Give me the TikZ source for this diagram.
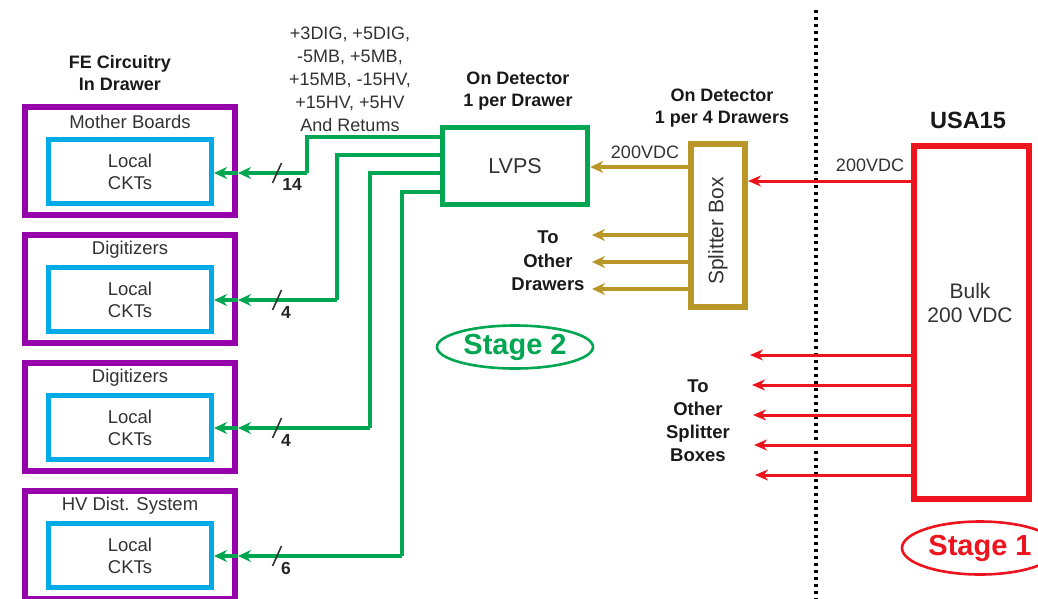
\documentclass[tikz,border=0pt]{standalone}
\usepackage{fontspec}
\setmainfont{Liberation Sans}
\usetikzlibrary{arrows.meta,shapes.geometric,calc}
\definecolor{fepurple}{RGB}{150,0,170}
\definecolor{cktblue}{RGB}{0,170,230}
\definecolor{lvgreen}{RGB}{0,166,81}
\definecolor{spgold}{RGB}{185,150,40}
\definecolor{usared}{RGB}{237,20,30}
\definecolor{txtgray}{RGB}{50,50,50}
\tikzset{
  febox/.style={draw=fepurple,line width=6pt,minimum width=210pt,minimum height=108pt,inner sep=0pt},
  cktbox/.style={draw=cktblue,line width=5pt,minimum width=163pt,minimum height=64pt,align=center,font=\fontsize{18.5}{22}\selectfont,text=txtgray,inner sep=0pt},
  boxtitle/.style={font=\fontsize{18.5}{22}\selectfont,text=txtgray,inner sep=0pt},
  blabel/.style={font=\bfseries\fontsize{18}{22.5}\selectfont,align=center,text=black!90,inner sep=0pt},
  nlabel/.style={font=\fontsize{18}{23}\selectfont,align=center,text=txtgray,inner sep=0pt},
  gline/.style={draw=lvgreen,line width=3.5pt},
  gtip/.style={-{Stealth[length=13pt,width=12pt]}},
  goldline/.style={draw=spgold,line width=3.5pt,-{Stealth[length=13pt,width=12pt]}},
  redline/.style={draw=usared,line width=3pt,-{Stealth[length=13pt,width=11pt]}},
  slashmark/.style={draw=black!80,line width=1.6pt},
  cnt/.style={font=\bfseries\fontsize{17.5}{18}\selectfont,text=black!85,inner sep=0pt},
  stageell/.style={ellipse,line width=2.6pt,inner sep=0pt,font=\bfseries\fontsize{29}{30}\selectfont}
}
\begin{document}
\begin{tikzpicture}[x=1pt,y=-1pt]
\useasboundingbox (0,0) rectangle (1038,598);
\clip (0,0) rectangle (1038,598);

% FE boxes
\foreach \i/\yc/\ttl in {1/161/Mother Boards,2/289/Digitizers,3/417/Digitizers,4/545/HV Dist. System}{
  \node[febox] (fe\i) at (130,\yc) {};
  \node[boxtitle] (fet\i) at (130,\yc-39) {\ttl};
  \node[cktbox] (ck\i) at (130,\yc+10.5) {Local\\CKTs};
}

\node[blabel] (fehead) at (120,73) {FE Circuitry\\In Drawer};
\node[nlabel] (sigs) at (350,79) {+3DIG, +5DIG,\\-5MB, +5MB,\\+15MB, -15HV,\\+15HV, +5HV\\And Retums};

% LVPS
\node[draw=lvgreen,line width=5.5pt,minimum width=145pt,minimum height=77pt,inner sep=0pt,
      font=\fontsize{21.5}{24}\selectfont,text=txtgray] (lvps) at (515,166) {LVPS};
\node[blabel] (lvhead) at (518,91) {On Detector\\1 per Drawer};

% green wiring
\coordinate (j1) at (307,173);
\coordinate (j2) at (337,300);
\coordinate (j3) at (370,428);
\coordinate (j4) at (402,556);
\draw[gline] (lvps.west |- 0,137) -| (j1);
\draw[gline] (lvps.west |- 0,155) -| (j2);
\draw[gline] (lvps.west |- 0,173) -| (j3);
\draw[gline] (lvps.west |- 0,192) -| (j4);
\foreach \i in {1,...,4}{
  \draw[gline,gtip] (j\i) -- (fe\i.east |- j\i);
  \draw[gline,gtip] (fe\i.east |- j\i) -- (ck\i.east |- j\i);
}
\foreach \i in {1,...,4}{
  \coordinate (sm\i) at (277,0 |- j\i);
  \draw[slashmark] ($(sm\i)+(-4.5,10)$) -- ($(sm\i)+(4.5,-10)$);
}
\node[cnt] (c1) at (292,184) {14};
\node[cnt] (c2) at (286,312) {4};
\node[cnt] (c3) at (286,440) {4};
\node[cnt] (c4) at (286,568) {6};

% Splitter box
\node[draw=spgold,line width=6pt,minimum width=54pt,minimum height=163pt,inner sep=0pt] (spl) at (718,225.5) {};
\node[rotate=90,font=\fontsize{21}{24}\selectfont,text=txtgray,inner sep=0pt] (spltxt) at (718,231) {Splitter Box};
\node[blabel] (sphead) at (722,108) {On Detector\\1 per 4 Drawers};
\draw[goldline] (spl.west |- 0,167) -- (lvps.east |- 0,167);
\node[nlabel] (v1) at (645,152) {200VDC};
\coordinate (od1) at (592,235);
\coordinate (od2) at (592,262);
\coordinate (od3) at (592,289);
\foreach \i in {1,2,3}{ \draw[goldline] (spl.west |- od\i) -- (od\i); }
\node[blabel,font=\bfseries\fontsize{18.5}{23.5}\selectfont] (otd) at (548,261) {To\\Other\\Drawers};

% Stage 2
\node[stageell,draw=lvgreen,text=lvgreen,minimum width=156pt,minimum height=43pt] (st2) at (515,347) {Stage 2};

% dotted divider
\coordinate (dtop) at (816,10);
\coordinate (dbot) at (816,600);
\draw[line width=3.2pt,dash pattern=on 3.2pt off 3.8pt,black] (dtop) -- (dbot);

% USA15
\node[draw=usared,line width=6pt,minimum width=115pt,minimum height=353pt,inner sep=0pt] (usa) at (971.5,322.5) {};
\node[font=\fontsize{21}{24}\selectfont,align=center,text=txtgray,inner sep=0pt] (bulk) at (970,303) {Bulk\\200 VDC};
\node[font=\bfseries\fontsize{23.5}{26}\selectfont,text=black!90,inner sep=0pt] (usahd) at (968,120) {USA15};
\draw[redline] (usa.west |- 0,181) -- (spl.east |- 0,181);
\node[nlabel] (v2) at (870,165) {200VDC};
\coordinate (os1) at (750,355);
\coordinate (os2) at (752,385);
\coordinate (os3) at (753,415);
\coordinate (os4) at (754,445);
\coordinate (os5) at (755,475);
\foreach \i in {1,...,5}{ \draw[redline] (usa.west |- os\i) -- (os\i); }
\node[blabel,font=\bfseries\fontsize{18.5}{23}\selectfont] (ots) at (698,421) {To\\Other\\Splitter\\Boxes};

% Stage 1
\node[stageell,draw=usared,text=usared,minimum width=156pt,minimum height=53pt] (st1) at (980,548) {Stage 1};
\end{tikzpicture}
\end{document}
